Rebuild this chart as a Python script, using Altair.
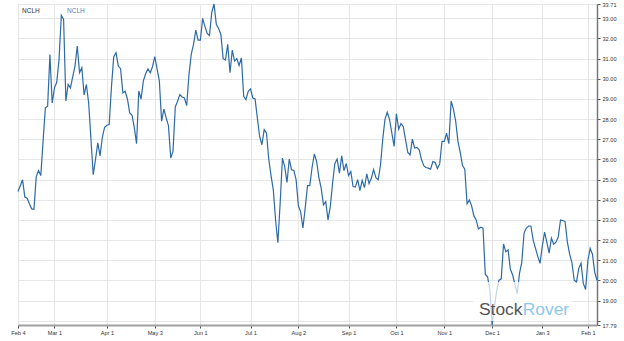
import altair as alt
import pandas as pd

# NCLH daily close, one value per trading day (Feb 4 2021 .. Feb 4 2022)
close = [
    24.41, 24.7, 24.99, 24.13, 24.08, 23.8, 23.55, 23.53, 25.15, 25.45,
    25.2, 26.9, 28.56, 28.64, 31.21, 28.8, 29.55, 29.83, 30.96, 33.15,
    32.95, 28.9, 29.72, 29.55, 30.1, 30.63, 31.62, 30.3, 30.55, 29.2,
    29.72, 28.8, 27.0, 25.24, 26.0, 26.82, 26.18, 27.1, 27.6, 27.7,
    27.73, 29.6, 31.1, 31.29, 30.63, 30.5, 29.3, 29.38, 29.0, 28.31,
    28.2, 27.6, 26.78, 29.4, 29.0, 29.9, 30.25, 30.5, 30.3, 30.6,
    31.1, 30.5, 29.9, 27.9, 28.5, 28.06, 27.68, 26.07, 26.40, 28.61,
    28.89, 29.22, 29.10, 29.05, 28.67, 30.21, 31.21, 31.71, 32.42, 31.92,
    31.92, 33.0, 32.6, 32.25, 32.15, 33.3, 33.71, 32.7, 32.5, 32.2,
    31.0, 30.93, 31.71, 30.3, 31.42, 30.88, 31.0, 30.66, 31.04, 29.13,
    28.97, 29.38, 29.50, 29.05, 29.0, 28.06, 27.14, 26.73, 27.48, 27.31,
    26.02, 25.2, 24.49, 23.0, 21.87, 23.83, 26.07, 25.65, 24.86, 26.02,
    25.49, 25.45, 25.0, 23.7, 23.4, 22.6, 23.6, 24.7, 24.7, 25.6,
    26.27, 25.9, 25.1, 24.58, 23.75, 23.91, 23.0, 23.66, 24.83, 25.8,
    26.02, 25.32, 26.18, 25.45, 25.8, 25.2, 25.4, 24.66, 24.63, 25.0,
    24.45, 24.96, 24.6, 25.29, 24.8, 25.07, 25.5, 25.1, 24.99, 25.7,
    27.0, 28.0, 28.34, 27.98, 27.31, 26.65, 28.27, 27.5, 27.78, 27.64,
    26.98, 26.35, 26.23, 27.01, 26.57, 26.60, 26.48, 26.0, 25.69, 25.6,
    25.57, 25.52, 25.90, 25.85, 25.55, 25.78, 26.9, 26.9, 27.31, 26.78,
    28.9, 28.5, 27.9, 26.9, 26.35, 25.7, 25.52, 23.8, 23.99, 23.7,
    23.2, 23.0, 22.55, 22.64, 22.59, 20.3, 20.18, 19.52, 17.79, 18.7,
    19.5, 20.01, 20.08, 21.81, 21.42, 21.51, 20.55, 20.27, 19.8, 19.35,
    20.35, 20.9, 22.35, 22.6, 22.70, 22.70, 22.0, 21.6, 21.2, 20.85,
    21.7, 22.4, 21.9, 21.35, 22.1, 21.8, 21.9, 22.15, 23.0, 22.97,
    22.92, 21.9, 21.3, 20.88, 20.01, 19.93, 20.6, 20.85, 19.85, 19.55,
    21.0, 21.59, 21.3, 20.4, 20.01,
]
trading_day = list(range(len(close)))

tick_days = [0, 16, 39, 60, 80, 102, 123, 145, 166, 187, 208, 230, 250]
tick_labels = ["Feb 4", "Mar 1", "Apr 1", "May 3", "Jun 1", "Jul 1", "Aug 2",
               "Sep 1", "Oct 1", "Nov 1", "Dec 1", "Jan 3", "Feb 1"]

y_min, y_max = 17.79, 33.71
y_ticks = [17.79] + list(range(18, 34)) + [33.71]

ticker = "NCLH"
brand_a, brand_b = "Stock", "Rover"

df = pd.DataFrame({"trading_day": trading_day, "close": close})

x_label_expr = " : ".join(
    f"datum.value == {d} ? '{l}'" for d, l in zip(tick_days, tick_labels)
) + " : ''"
y_label_expr = "datum.value == 18 ? '' : format(datum.value, '.2f')"

FONT = "Liberation Sans"

line = alt.Chart(df).mark_line(color="#2d6aa6", strokeWidth=1.2).encode(
    x=alt.X(
        "trading_day:Q",
        scale=alt.Scale(domain=[0, len(close) - 1], nice=False, zero=False),
        axis=alt.Axis(
            values=tick_days, labelExpr=x_label_expr, title=None,
            grid=True, gridColor="#e6e6e6", gridWidth=1,
            domainColor="#a0a0a0", domainWidth=2,
            tickColor="#555555", tickSize=3, tickWidth=1,
            labelFont=FONT, labelFontSize=5.6, labelColor="#333333",
            labelPadding=2, labelFlush=False, labelOverlap=False,
        ),
    ),
    y=alt.Y(
        "close:Q",
        scale=alt.Scale(domain=[y_min, y_max], nice=False, zero=False),
        axis=alt.Axis(
            orient="right", values=y_ticks, labelExpr=y_label_expr, title=None,
            grid=True, gridColor="#e6e6e6", gridWidth=1,
            domainColor="#777777", domainWidth=1.5,
            tickColor="#555555", tickSize=3, tickWidth=1,
            labelFont=FONT, labelFontSize=5.6, labelColor="#333333",
            labelPadding=2, labelOverlap=False, labelFlush=False,
        ),
    ),
)

label_df = pd.DataFrame({"t": [ticker]})
legend_dark = alt.Chart(label_df).mark_text(
    align="left", baseline="middle", font=FONT, fontSize=6.5, color="#333333"
).encode(text="t:N", x=alt.value(4), y=alt.value(7))
legend_blue = alt.Chart(label_df).mark_text(
    align="left", baseline="middle", font=FONT, fontSize=6.5, color="#4f86c0"
).encode(text="t:N", x=alt.value(49), y=alt.value(7))

backdrop = alt.Chart(label_df).mark_rect(color="white", opacity=0.72).encode(
    x=alt.value(455), x2=alt.value(554), y=alt.value(278), y2=alt.value(317)
)
brand_df = pd.DataFrame({"a": [brand_a], "b": [brand_b]})
wm_a = alt.Chart(brand_df).mark_text(
    align="left", baseline="alphabetic", font=FONT, fontSize=17.4, color="#555555"
).encode(text="a:N", x=alt.value(461), y=alt.value(311))
wm_b = alt.Chart(brand_df).mark_text(
    align="left", baseline="alphabetic", font=FONT, fontSize=17.4, color="#8cc8ee"
).encode(text="b:N", x=alt.value(504.7), y=alt.value(311))

chart = alt.layer(line, legend_dark, legend_blue, backdrop, wm_a, wm_b).properties(
    width=579, height=321,
    autosize=alt.AutoSizeParams(type="none"),
    padding={"left": 18, "top": 4, "right": 27, "bottom": 16},
    background="white",
).configure_view(stroke=None)

chart.save("out.html", embed_options={"renderer": "svg", "actions": False})
